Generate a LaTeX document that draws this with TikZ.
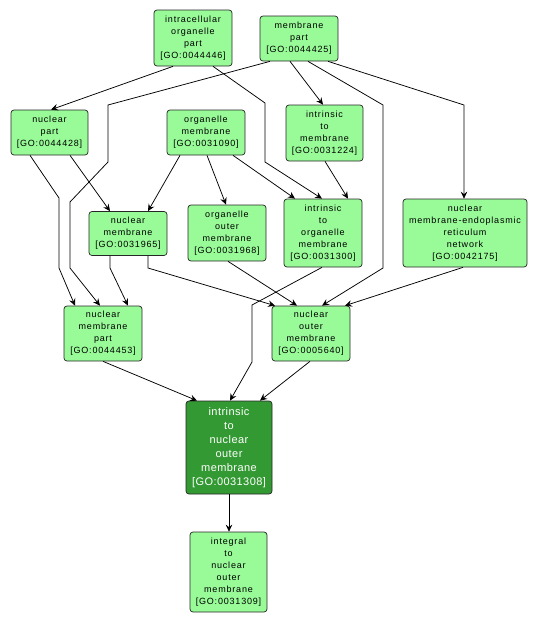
\documentclass[tikz,border=0pt]{standalone}
\usepackage{fontspec}
\setmainfont{Liberation Sans}
\usetikzlibrary{arrows.meta,calc}
\definecolor{lightgo}{RGB}{152,251,152}
\definecolor{darkgo}{RGB}{51,153,51}
\tikzset{
  gobox/.style={draw=black!85, line width=0.7pt, rounded corners=3pt, fill=lightgo, align=center, inner sep=0pt,
    font=\fontsize{9}{12}\selectfont\addfontfeature{LetterSpace=9}},
  godark/.style={gobox, fill=darkgo, text=white, font=\fontsize{11}{14}\selectfont\addfontfeature{LetterSpace=4}},
  edge/.style={draw=black, line width=0.75pt, -{Stealth[length=7pt,width=6.5pt,inset=2.5pt]}}
}
\begin{document}
\begin{tikzpicture}[x=1pt,y=-1pt]
\useasboundingbox (0,0) rectangle (537,624);
\node[gobox, minimum width=78pt, minimum height=56pt] (iop) at (193,38) {intracellular\\organelle\\part\\{}[GO:0044446]};
\node[gobox, minimum width=78pt, minimum height=45pt] (mp) at (299,38.5) {membrane\\part\\{}[GO:0044425]};
\node[gobox, minimum width=77pt, minimum height=45pt] (np) at (49.5,132.5) {nuclear\\part\\{}[GO:0044428]};
\node[gobox, minimum width=78pt, minimum height=45pt] (om) at (206,132.5) {organelle\\membrane\\{}[GO:0031090]};
\node[gobox, minimum width=77pt, minimum height=56pt] (itm) at (324.5,133) {intrinsic\\to\\membrane\\{}[GO:0031224]};
\node[gobox, minimum width=78pt, minimum height=44pt] (nm) at (128,233.5) {nuclear\\membrane\\{}[GO:0031965]};
\node[gobox, minimum width=78pt, minimum height=56pt] (oom) at (227,233) {organelle\\outer\\membrane\\{}[GO:0031968]};
\node[gobox, minimum width=78pt, minimum height=68pt] (itom) at (323,233) {intrinsic\\to\\organelle\\membrane\\{}[GO:0031300]};
\node[gobox, minimum width=124pt, minimum height=68pt] (nmer) at (465,233) {nuclear\\membrane-endoplasmic\\reticulum\\network\\{}[GO:0042175]};
\node[gobox, minimum width=78pt, minimum height=55pt] (nmp) at (103,333.5) {nuclear\\membrane\\part\\{}[GO:0044453]};
\node[gobox, minimum width=78pt, minimum height=55pt] (nom) at (311,333.5) {nuclear\\outer\\membrane\\{}[GO:0005640]};
\node[godark, minimum width=86pt, minimum height=93pt] (itnom) at (229,447.5) {intrinsic\\to\\nuclear\\outer\\membrane\\{}[GO:0031308]};
\node[gobox, minimum width=77pt, minimum height=80pt] (inom) at (228.5,572) {integral\\to\\nuclear\\outer\\membrane\\{}[GO:0031309]};

\draw[edge] ($(iop.south)+(-20,0)$) -- ($(np.north)+(1.5,0)$);
\draw[edge] ($(iop.south)+(20,0)$) -- (265,103) -- (265,162) -- ($(itom.north)+(-1,0)$);
\draw[edge] ($(mp.south)+(-29,0)$) -- (108,105) -- (108,162) -- (70,202) -- (70,268) -- ($(nmp.north)+(-3,0)$);
\draw[edge] ($(mp.south)+(-9,0)$) -- ($(itm.north)+(-1.5,0)$);
\draw[edge] ($(mp.south)+(9,0)$) -- (383,105) -- (383,268) -- ($(nom.north)+(11,0)$);
\draw[edge] ($(mp.south)+(29,0)$) -- (464,105) -- ($(nmer.north)+(-1,0)$);
\draw[edge] ($(np.south)+(-19.5,0)$) -- (59,198) -- (59,268) -- ($(nmp.north)+(-28,0)$);
\draw[edge] ($(np.south)+(20.5,0)$) -- ($(nm.north)+(-18,0)$);
\draw[edge] ($(om.south)+(-26,0)$) -- ($(nm.north)+(20,0)$);
\draw[edge] ($(om.south)+(1,0)$) -- ($(oom.north)+(-1,0)$);
\draw[edge] ($(om.south)+(27,0)$) -- ($(itom.north)+(-28,0)$);
\draw[edge] ($(itm.south)+(0.5,0)$) -- ($(itom.north)+(25,0)$);
\draw[edge] ($(nm.south)+(-18,0)$) -- (110,268) -- ($(nmp.north)+(25,0)$);
\draw[edge] ($(nm.south)+(20,0)$) -- (148,268) -- ($(nom.north)+(-36,0)$);
\draw[edge] ($(oom.south)+(1,0)$) -- ($(nom.north)+(-14,0)$);
\draw[edge] ($(itom.south)+(-1,0)$) -- (252,305) -- (252,362) -- ($(itnom.north)+(1,0)$);
\draw[edge] ($(nmer.south)+(-2,0)$) -- ($(nom.north)+(34,0)$);
\draw[edge] (nmp.south) -- ($(itnom.north)+(-32,0)$);
\draw[edge] ($(nom.south)+(-1,0)$) -- ($(itnom.north)+(31,0)$);
\draw[edge] (itnom.south) -- (inom.north -| itnom.south);
\end{tikzpicture}
\end{document}
